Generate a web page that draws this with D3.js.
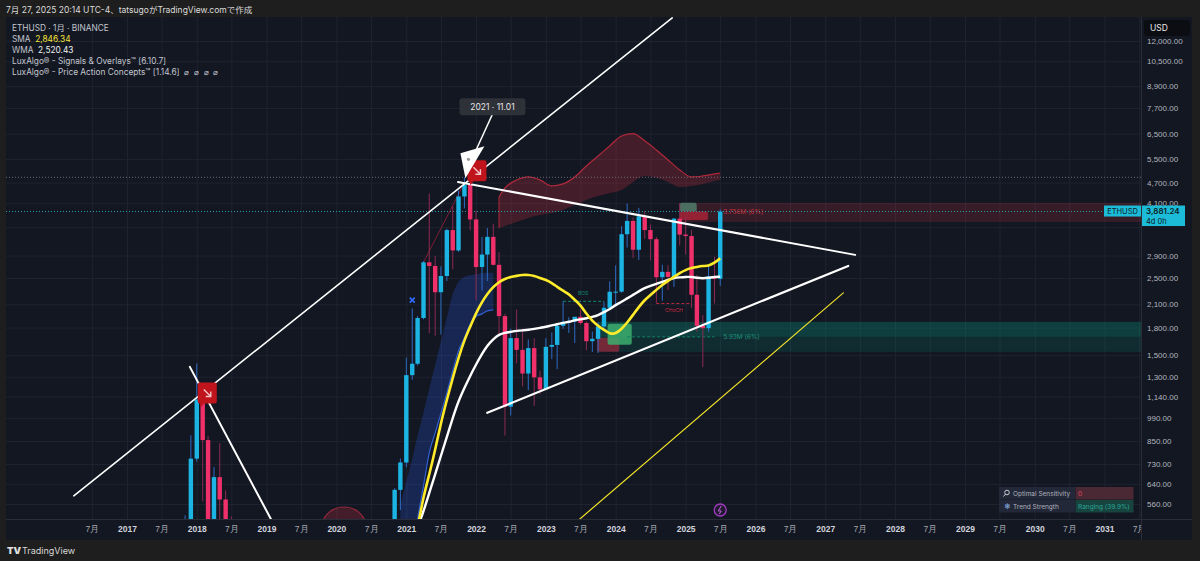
<!DOCTYPE html>
<html>
<head>
<meta charset="utf-8">
<script src="https://cdn.jsdelivr.net/npm/d3@7"></script>
<style>
html, body { margin: 0; padding: 0; background: #1e1e1e; }
svg { display: block; font-family: Inter, "Noto Sans CJK JP", sans-serif; }
</style>
</head>
<body>
<svg id="chart" width="1200" height="561"></svg>
<script>
// monthly ETHUSD candles: month, open, high, low, close
var ohlc = [
  ["2017-08",301,395,278,384],["2017-09",384,394,197,302],["2017-10",302,350,285,305],
  ["2017-11",305,520,293,445],["2017-12",445,882,410,756],["2018-01",756,1420,741,1118],
  ["2018-02",1118,1161,570,855],["2018-03",855,880,366,395],["2018-04",395,715,360,669],
  ["2018-05",669,838,507,577],["2018-06",577,613,410,454],["2018-07",454,516,406,433],
  ["2018-08",433,435,250,281],["2018-09",281,305,167,232],["2018-10",232,235,181,198],
  ["2018-11",198,226,102,113],["2018-12",113,159,81,131],["2019-01",131,161,101,106],
  ["2019-02",106,166,102,135],["2019-03",135,147,127,141],["2019-04",141,185,141,160],
  ["2019-05",160,287,160,268],["2019-06",268,362,229,293],["2019-07",293,315,188,218],
  ["2019-08",218,239,165,172],["2019-09",172,224,152,180],["2019-10",180,199,157,182],
  ["2019-11",182,195,131,151],["2019-12",151,153,117,129],["2020-01",129,185,127,180],
  ["2020-02",180,288,180,218],["2020-03",218,253,86,133],["2020-04",133,227,130,206],
  ["2020-05",206,245,176,231],["2020-06",231,253,215,225],["2020-07",225,349,222,345],
  ["2020-08",345,445,345,435],["2020-09",435,488,308,360],["2020-10",360,420,334,386],
  ["2020-11",386,622,370,615],["2020-12",615,757,538,737],["2021-01",737,1476,714,1314],
  ["2021-02",1314,2042,1274,1417],["2021-03",1417,1943,1400,1918],["2021-04",1918,2799,1900,2773],
  ["2021-05",2773,4372,1735,2707],["2021-06",2707,2891,1707,2275],["2021-07",2275,2700,1719,2533],
  ["2021-08",2533,3466,2450,3433],["2021-09",3433,4027,2650,3000],["2021-10",3000,4460,2970,4288],
  ["2021-11",4288,4868,3963,4631],["2021-12",4631,4778,3425,3683],["2022-01",3683,3900,2159,2688],
  ["2022-02",2688,3282,2300,2919],["2022-03",2919,3479,2450,3282],["2022-04",3282,3581,2717,2727],
  ["2022-05",2727,2965,1704,1942],["2022-06",1942,1972,881,1067],["2022-07",1067,1785,1006,1679],
  ["2022-08",1679,2030,1422,1553],["2022-09",1553,1789,1220,1328],["2022-10",1328,1664,1190,1572],
  ["2022-11",1572,1678,1073,1295],["2022-12",1295,1352,1158,1196],["2023-01",1196,1680,1190,1585],
  ["2023-02",1585,1743,1461,1605],["2023-03",1605,1857,1368,1822],["2023-04",1822,2142,1785,1870],
  ["2023-05",1870,1928,1737,1874],["2023-06",1874,1930,1626,1934],["2023-07",1934,2029,1835,1856],
  ["2023-08",1856,1875,1550,1645],["2023-09",1645,1754,1531,1671],["2023-10",1671,1865,1521,1814],
  ["2023-11",1814,2135,1771,2052],["2023-12",2052,2445,2051,2282],["2024-01",2282,2717,2100,2283],
  ["2024-02",2283,3522,2265,3340],["2024-03",3340,4094,3057,3647],["2024-04",3647,3730,2852,3014],
  ["2024-05",3014,3977,2817,3760],["2024-06",3760,3887,3240,3433],["2024-07",3433,3563,2810,3232],
  ["2024-08",3232,3283,2111,2513],["2024-09",2513,2728,2150,2603],["2024-10",2603,2722,2309,2518],
  ["2024-11",2518,3720,2357,3703],["2024-12",3703,4107,3099,3332],["2025-01",3332,3744,2922,3300],
  ["2025-02",3300,3436,2050,2237],["2025-03",2237,2550,1754,1822],["2025-04",1822,1956,1385,1793],
  ["2025-05",1793,2738,1751,2528],["2025-06",2528,2880,2111,2486],["2025-07",2486,3941,2373,3881.24]
];

// SMA (yellow) and WMA (white)
var smaLine = [
  ["2021-03",480],["2021-04",590],["2021-05",679],["2021-06",801],["2021-07",958],["2021-08",1116],
  ["2021-09",1291],["2021-10",1474],["2021-11",1660],["2021-12",1809],["2022-01",1984],["2022-02",2134],
  ["2022-03",2250],["2022-04",2357],["2022-05",2436],["2022-06",2485],["2022-07",2518],["2022-08",2535],
  ["2022-09",2552],["2022-10",2552],["2022-11",2535],["2022-12",2501],["2023-01",2469],["2023-02",2420],
  ["2023-03",2357],["2023-04",2295],["2023-05",2250],["2023-06",2162],["2023-07",2092],["2023-08",1971],
  ["2023-09",1882],["2023-10",1821],["2023-11",1773],["2023-12",1727],["2024-01",1727],["2024-02",1785],
  ["2024-03",1858],["2024-04",1958],["2024-05",2064],["2024-06",2162],["2024-07",2235],["2024-08",2311],
  ["2024-09",2388],["2024-10",2452],["2024-11",2518],["2024-12",2585],["2025-01",2637],["2025-02",2672],
  ["2025-03",2690],["2025-04",2708],["2025-05",2708],["2025-06",2762],["2025-07",2846.34]
];
var wmaLine = [
  ["2021-02",420],["2021-03",480],["2021-04",533],["2021-05",603],["2021-06",682],["2021-07",770],
  ["2021-08",874],["2021-09",991],["2021-10",1108],["2021-11",1208],["2021-12",1308],["2022-01",1411],
  ["2022-02",1513],["2022-03",1600],["2022-04",1670],["2022-05",1720],["2022-06",1740],["2022-07",1750],
  ["2022-08",1762],["2022-09",1768],["2022-10",1773],["2022-11",1785],["2022-12",1797],["2023-01",1809],
  ["2023-02",1827],["2023-03",1839],["2023-04",1858],["2023-05",1870],["2023-06",1889],["2023-07",1901],
  ["2023-08",1914],["2023-09",1932],["2023-10",1951],["2023-11",1995],["2023-12",2031],["2024-01",2092],
  ["2024-02",2134],["2024-03",2184],["2024-04",2235],["2024-05",2288],["2024-06",2342],["2024-07",2373],
  ["2024-08",2404],["2024-09",2436],["2024-10",2469],["2024-11",2502],["2024-12",2510],["2025-01",2518],
  ["2025-02",2518],["2025-03",2502],["2025-04",2494],["2025-05",2502],["2025-06",2518],["2025-07",2520.43]
];

// overlay ribbons: month, upper, lower
var blueBand = [
  ["2020-12",557,400],["2021-01",649,410],["2021-02",755,420],["2021-03",880,508],["2021-04",1027,632],
  ["2021-05",1200,786],["2021-06",1407,897],["2021-07",1638,1020],["2021-08",1926,1169],["2021-09",2250,1352],
  ["2021-10",2436,1543],["2021-11",2518,1682],["2021-12",2545,1839],["2022-01",2563,1939],["2022-02",2580,1971],
  ["2022-03",2590,2011],["2022-04",2590,2025]
];
var redBand = [
  ["2022-05",4274,3480],["2022-06",4537,3528],["2022-08",4784,3623],["2022-10",4880,3720],["2022-12",4784,3794],
  ["2023-02",4597,3845],["2023-04",4659,3922],["2023-06",4880,4054],["2023-08",5248,4190],["2023-10",5607,4302],
  ["2023-12",5991,4388],["2024-02",6400,4477],["2024-04",6500,4721],["2024-06",6200,4912],["2024-08",5834,4848],
  ["2024-10",5460,4721],["2024-12",5110,4567],["2025-02",4880,4597],["2025-04",4912,4659],["2025-06",4977,4752],
  ["2025-07",5010,4784]
];

// drawn trend lines: [decimal year, price] pairs
var trendLines = [
  { pts: [[2016.24, 591], [2024.81, 13980]], color: "#ffffff", w: 1.6 },
  { pts: [[2017.90, 1388], [2019.06, 508]], color: "#ffffff", w: 2 },
  { pts: [[2021.74, 4721], [2027.43, 2913]], color: "#ffffff", w: 2 },
  { pts: [[2022.16, 1024], [2027.33, 2708]], color: "#ffffff", w: 2.2 },
  { pts: [[2023.14, 442], [2027.26, 2265]], color: "#f2e22a", w: 1.2 }
];

// zones: start month, end month (null = extend right), top, bottom, fill
var zones = [
  ["2023-10", null, 1870, 1693, "rgba(8,153,129,0.30)"],
  ["2023-10", null, 1693, 1533, "rgba(8,153,129,0.16)"],
  ["2024-12", null, 4110, 3623, "rgba(242,54,69,0.16)"],
  ["2023-09-25", "2024-01-20", 1682, 1533, "rgba(150,40,60,0.75)"],
  ["2023-11-20", "2024-03-25", 1845, 1606, "rgba(60,175,110,0.85)"],
  ["2024-12", "2025-02-28", 4110, 3881, "rgba(80,125,108,0.85)"],
  ["2024-12", "2025-04-28", 3881, 3671, "rgba(165,35,55,0.85)"]
];

var priceTicks = [560,640,730,850,990,1140,1300,1500,1800,2100,2500,2900,3500,4100,4700,5500,6500,7700,8900,10500,12000];
var hiddenTick = 3500; // sits under the last-price label
var lastPrice = 3881.24, athPrice = 4868;

var parseM = function(s) { return s.length > 7 ? d3.utcParse("%Y-%m-%d")(s) : d3.utcParse("%Y-%m")(s); };
var fromYear = function(v) {
  var yr = Math.floor(v);
  return new Date(Date.UTC(yr, 0, 1) + (v - yr) * 365.25 * 864e5);
};

var svg = d3.select("#chart");
var L = 6, T = 17, R = 1141, B = 519, PR = 1192, PB = 540;

var x = d3.scaleUtc().domain([fromYear(2017), fromYear(2031)]).range([127, 1104.5]);
var y = d3.scaleLog().domain([560, 12000]).range([504, 41]);

svg.append("rect").attr("width", 1200).attr("height", 561).attr("fill", "#1e1e1e");
svg.append("rect").attr("x", L).attr("y", T).attr("width", PR - L).attr("height", PB - T).attr("fill", "#131722");

var defs = svg.append("defs");
defs.append("clipPath").attr("id", "plot")
  .append("rect").attr("x", L).attr("y", T).attr("width", R - L).attr("height", B - T);
defs.append("clipPath").attr("id", "taxis")
  .append("rect").attr("x", L).attr("y", B).attr("width", R - L).attr("height", PB - B);

// grid
var xTicks = d3.utcMonth.range(Date.UTC(2016, 6, 1), Date.UTC(2031, 7, 1), 6);
var gridX = svg.append("g").attr("clip-path", "url(#plot)").append("g").attr("transform", "translate(0," + B + ")")
  .call(d3.axisBottom(x).tickValues(xTicks).tickSize(-(B - T)).tickFormat(""));
var gridY = svg.append("g").attr("transform", "translate(" + R + ",0)")
  .call(d3.axisLeft(y).tickValues(priceTicks).tickSize(R - L).tickFormat(""));
[gridX, gridY].forEach(function(g) {
  g.select(".domain").remove();
  g.selectAll("line").attr("stroke", "#1f2330").attr("stroke-width", 1);
});

var plot = svg.append("g").attr("clip-path", "url(#plot)");

// zones
plot.selectAll("rect.zone").data(zones).join("rect").attr("class", "zone")
  .attr("x", function(d) { return x(parseM(d[0])); })
  .attr("width", function(d) { return (d[1] ? x(parseM(d[1])) : R) - x(parseM(d[0])); })
  .attr("y", function(d) { return y(d[2]); })
  .attr("height", function(d) { return y(d[3]) - y(d[2]); })
  .attr("fill", function(d) { return d[4]; })
  .attr("rx", function(d) { return d[1] ? 2 : 0; });

// ribbons
var band = d3.area().x(function(d) { return x(parseM(d[0])); })
  .y0(function(d) { return y(d[2]); }).y1(function(d) { return y(d[1]); }).curve(d3.curveMonotoneX);
var edge = function(i) {
  return d3.line().x(function(d) { return x(parseM(d[0])); }).y(function(d) { return y(d[i]); }).curve(d3.curveMonotoneX);
};
plot.append("path").datum(blueBand).attr("d", band).attr("fill", "rgba(41,98,255,0.22)");
plot.append("path").datum(blueBand).attr("d", edge(2)).attr("fill", "none").attr("stroke", "#2f5fd0").attr("stroke-width", 1.2);
plot.append("path").datum(redBand).attr("d", band).attr("fill", "rgba(242,54,69,0.22)");
plot.append("path").datum(redBand).attr("d", edge(1)).attr("fill", "none").attr("stroke", "#b1283b").attr("stroke-width", 1.2);
plot.append("line").attr("x1", x(parseM(redBand[0][0]))).attr("x2", x(parseM(redBand[0][0])))
  .attr("y1", y(redBand[0][1])).attr("y2", y(redBand[0][2])).attr("stroke", "#b1283b");

// red cloud at the 2020 bottom
plot.append("ellipse").attr("cx", x(parseM("2020-02-10"))).attr("cy", B + 8).attr("rx", 22).attr("ry", 20)
  .attr("fill", "rgba(242,54,69,0.22)").attr("stroke", "#8f2a3c").attr("stroke-width", 1.2);

// dotted price lines
plot.append("line").attr("x1", L).attr("x2", R).attr("y1", y(athPrice)).attr("y2", y(athPrice))
  .attr("stroke", "#6a6d78").attr("stroke-dasharray", "1,2");
plot.append("line").attr("x1", L).attr("x2", R).attr("y1", y(lastPrice)).attr("y2", y(lastPrice))
  .attr("stroke", "#2a9fb5").attr("stroke-dasharray", "1,2");

// structure labels
var dashLine = function(m0, m1, p, color) {
  plot.append("line").attr("x1", x(parseM(m0))).attr("x2", x(parseM(m1))).attr("y1", y(p)).attr("y2", y(p))
    .attr("stroke", color).attr("stroke-dasharray", "3,2").attr("stroke-width", 1);
};
dashLine("2023-04", "2023-11", 2142, "#0f8a70");
plot.append("text").attr("x", x(parseM("2023-07-15"))).attr("y", y(2142) - 6).attr("text-anchor", "middle")
  .attr("font-size", 5).attr("fill", "#0f8a70").text("BOS");
dashLine("2024-08", "2025-02", 2111, "#b4283c");
plot.append("text").attr("x", x(parseM("2024-11"))).attr("y", y(2111) + 8).attr("text-anchor", "middle")
  .attr("font-size", 5).attr("fill", "#c52b40").text("CHoCH");
dashLine("2024-03", "2025-06", 1693, "#12806a");
plot.append("text").attr("x", x(parseM("2025-07")) + 3).attr("y", y(1693) + 2.5)
  .attr("font-size", 6.5).attr("fill", "#1e8f7a").text("5.93M (6%)");
plot.append("text").attr("x", x(parseM("2025-07")) + 3).attr("y", y(lastPrice) + 2.5)
  .attr("font-size", 6.5).attr("fill", "#c2313f").text("3.756M (6%)");

// thin zigzag
plot.append("line").attr("x1", x(parseM("2021-04"))).attr("y1", y(2773))
  .attr("x2", x(parseM("2021-11"))).attr("y2", y(4700)).attr("stroke", "#7e1d35").attr("stroke-width", 1);

// candles
var candles = ohlc.map(function(d) { return { date: parseM(d[0]), o: d[1], h: d[2], l: d[3], c: d[4] }; });
var cg = plot.append("g").selectAll("g").data(candles).join("g");
cg.append("line")
  .attr("x1", function(d) { return x(d.date); }).attr("x2", function(d) { return x(d.date); })
  .attr("y1", function(d) { return y(d.h); }).attr("y2", function(d) { return y(d.l); })
  .attr("stroke", function(d) { return d.c >= d.o ? "#2d6cc4" : "#8c2a52"; }).attr("stroke-width", 1);
cg.append("rect")
  .attr("x", function(d) { return x(d.date) - 2.2; }).attr("width", 4.4)
  .attr("y", function(d) { return y(Math.max(d.o, d.c)); })
  .attr("height", function(d) { return Math.max(1, Math.abs(y(d.o) - y(d.c))); })
  .attr("fill", function(d) { return d.c >= d.o ? "#1cb5e3" : "#f0306b"; });

// moving averages
var maLine = d3.line().x(function(d) { return x(parseM(d[0])); }).y(function(d) { return y(d[1]); }).curve(d3.curveBasis);
plot.append("path").datum(wmaLine).attr("d", maLine).attr("fill", "none").attr("stroke", "#ffffff").attr("stroke-width", 2.4);
plot.append("path").datum(smaLine).attr("d", maLine).attr("fill", "none").attr("stroke", "#ffeb2a").attr("stroke-width", 2.6);

// trend lines
plot.selectAll("line.trend").data(trendLines).join("line").attr("class", "trend")
  .attr("x1", function(d) { return x(fromYear(d.pts[0][0])); }).attr("y1", function(d) { return y(d.pts[0][1]); })
  .attr("x2", function(d) { return x(fromYear(d.pts[1][0])); }).attr("y2", function(d) { return y(d.pts[1][1]); })
  .attr("stroke", function(d) { return d.color; }).attr("stroke-width", function(d) { return d.w; })
  .attr("stroke-linecap", "round");

// signal markers
var sellBox = function(cx, cy) {
  var g = plot.append("g").attr("transform", "translate(" + cx + "," + cy + ")");
  g.append("path").attr("d", "M0,2 Q0,0 2,0 L17,0 Q19,0 19,2 L19,19 Q19,21 17,21 L6,21 L3,25 L2,21 Q0,21 0,19 Z").attr("fill", "#c0141d");
  g.append("path").attr("d", "M6,7 L13,14 M13,9 L13,14 L8,14").attr("stroke", "#f3c4c6").attr("stroke-width", 1.4).attr("fill", "none");
};
sellBox(x(parseM("2021-11")) + 3, y(athPrice) - 17);
sellBox(x(parseM("2018-01")) + 1, y(1118) - 17);

var bx = x(parseM("2021-02")), by = y(2160);
plot.append("path").attr("d", "M" + (bx - 2.5) + "," + (by - 2.5) + "L" + (bx + 2.5) + "," + (by + 2.5) +
  "M" + (bx + 2.5) + "," + (by - 2.5) + "L" + (bx - 2.5) + "," + (by + 2.5))
  .attr("stroke", "#2f6bff").attr("stroke-width", 1.6);

var px = x(parseM("2025-07")), py = B - 9;
plot.append("circle").attr("cx", px).attr("cy", py).attr("r", 6).attr("fill", "rgba(156,39,176,0.12)")
  .attr("stroke", "#a13bc0").attr("stroke-width", 1.3);
plot.append("path").attr("d", "M" + (px + 1) + "," + (py - 4) + "L" + (px - 2) + "," + (py + 1) + "L" + (px + 1) + "," + (py + 1) + "L" + (px - 1) + "," + (py + 4))
  .attr("stroke", "#c060d8").attr("fill", "none").attr("stroke-width", 1);

// callout at the 2021 top
var tipX = x(parseM("2021-11")), tipY = y(athPrice);
var call = svg.append("g");
call.append("line").attr("x1", tipX + 28).attr("y1", tipY - 63).attr("x2", tipX + 12).attr("y2", tipY - 28)
  .attr("stroke", "#ffffff").attr("stroke-width", 1.5);
call.append("path").attr("d", "M" + (tipX + 1) + "," + (tipY + 1) + "L" + (tipX - 4) + "," + (tipY - 24) +
  "L" + (tipX + 20) + "," + (tipY - 31) + "Z").attr("fill", "#ffffff");
call.append("circle").attr("cx", tipX + 4).attr("cy", tipY - 18).attr("r", 1.6).attr("fill", "#9a9a9a");
call.append("rect").attr("x", tipX - 5).attr("y", tipY - 79).attr("width", 66).attr("height", 17).attr("rx", 3)
  .attr("fill", "#2f3138");
call.append("text").attr("x", tipX + 28).attr("y", tipY - 67.5).attr("text-anchor", "middle")
  .attr("font-size", 8.5).attr("fill", "#e6e6e6").text("2021 · 11.01");

// axes
svg.append("line").attr("x1", R + 0.5).attr("x2", R + 0.5).attr("y1", T).attr("y2", PB).attr("stroke", "#2a2e39");
svg.append("line").attr("x1", L).attr("x2", PR).attr("y1", B + 0.5).attr("y2", B + 0.5).attr("stroke", "#2a2e39");

var yAxis = svg.append("g").attr("transform", "translate(" + R + ",0)")
  .call(d3.axisRight(y).tickValues(priceTicks.filter(function(v) { return v !== hiddenTick; }))
    .tickSize(0).tickPadding(6).tickFormat(d3.format(",.2f")));
yAxis.select(".domain").remove();
yAxis.selectAll("text").attr("font-size", 8).attr("fill", "#b2b5be");

var xAxis = svg.append("g").attr("clip-path", "url(#taxis)").append("g").attr("transform", "translate(0," + B + ")")
  .call(d3.axisBottom(x).tickValues(xTicks).tickSize(0).tickPadding(7)
    .tickFormat(function(d) { return d.getUTCMonth() === 0 ? d.getUTCFullYear() : "7月"; }));
xAxis.select(".domain").remove();
xAxis.selectAll("text").attr("font-size", 8.5)
  .attr("fill", function(d) { return d.getUTCMonth() === 0 ? "#d1d4dc" : "#a3a6af"; })
  .attr("font-weight", function(d) { return d.getUTCMonth() === 0 ? 700 : 400; });

// price labels on the axis
var ly = y(lastPrice);
svg.append("rect").attr("x", 1104).attr("y", ly - 6).attr("width", 37).attr("height", 11).attr("fill", "#1cbcd8");
svg.append("text").attr("x", 1122.5).attr("y", ly + 2.8).attr("text-anchor", "middle").attr("font-size", 7.5)
  .attr("fill", "#0b1a22").text("ETHUSD");
svg.append("rect").attr("x", R + 1).attr("y", ly - 6).attr("width", 43).attr("height", 20.5).attr("fill", "#1cbcd8");
svg.append("text").attr("x", R + 5).attr("y", ly + 2.8).attr("font-size", 8).attr("font-weight", 600)
  .attr("fill", "#0b1a22").text(d3.format(",.2f")(lastPrice));
svg.append("text").attr("x", R + 5).attr("y", ly + 12).attr("font-size", 7.5).attr("fill", "#0b1a22").text("4d 0h");

svg.append("rect").attr("x", 1144).attr("y", 20).attr("width", 46).attr("height", 16).attr("rx", 3).attr("fill", "#0b0d12");
svg.append("text").attr("x", 1150).attr("y", 31).attr("font-size", 8.5).attr("fill", "#e8e8e8").text("USD");

// legend
var legend = [
  [["ETHUSD · 1月 · BINANCE", "#c3c6ce"]],
  [["SMA  ", "#c3c6ce"], ["2,846.34", "#f3e33a"]],
  [["WMA  ", "#c3c6ce"], ["2,520.43", "#f0f0f0"]],
  [["LuxAlgo® - Signals & Overlays™ [6.10.7]", "#c3c6ce"]],
  [["LuxAlgo® - Price Action Concepts™ [1.14.6]  ⌀  ⌀  ⌀  ⌀", "#c3c6ce"]]
];
svg.append("g").selectAll("text").data(legend).join("text")
  .attr("x", 12).attr("y", function(d, i) { return 30.5 + i * 11; }).attr("font-size", 8.3)
  .selectAll("tspan").data(function(d) { return d; }).join("tspan")
  .attr("fill", function(d) { return d[1]; }).attr("xml:space", "preserve").text(function(d) { return d[0]; });

// header and footer
svg.append("text").attr("x", 6).attr("y", 13).attr("font-size", 8.5).attr("fill", "#dcdcdc")
  .text("7月 27, 2025 20:14 UTC-4、tatsugoがTradingView.comで作成");
svg.append("text").attr("x", 7).attr("y", 554).attr("font-size", 9.5).attr("font-weight", 900).attr("fill", "#e0e0e0").text("TV");
svg.append("text").attr("x", 22).attr("y", 554).attr("font-size", 9).attr("fill", "#d8d8d8").text("TradingView");

// dashboard table
var tbl = svg.append("g").attr("transform", "translate(999,487)");
var rows = [["Optimal Sensitivity", "0", "#4a2935", "#e2465f"], ["Trend Strength", "Ranging (39.9%)", "#17443f", "#2aa596"]];
rows.forEach(function(r, i) {
  tbl.append("rect").attr("x", 0).attr("y", i * 13).attr("width", 76).attr("height", 12.5).attr("fill", "#232838");
  tbl.append("rect").attr("x", 76.5).attr("y", i * 13).attr("width", 58).attr("height", 12.5).attr("fill", r[2]);
  tbl.append("text").attr("x", 14).attr("y", i * 13 + 9).attr("font-size", 6.5).attr("fill", "#aeb2bd").text(r[0]);
  tbl.append("text").attr("x", 79).attr("y", i * 13 + 9).attr("font-size", 6.5).attr("fill", r[3]).text(r[1]);
});
tbl.append("circle").attr("cx", 8).attr("cy", 5.5).attr("r", 2.3).attr("fill", "none").attr("stroke", "#c9ccd4").attr("stroke-width", 1);
tbl.append("line").attr("x1", 6.3).attr("y1", 7.3).attr("x2", 4.5).attr("y2", 9.5).attr("stroke", "#c9ccd4").attr("stroke-width", 1);
tbl.append("text").attr("x", 8).attr("y", 22).attr("text-anchor", "middle").attr("font-size", 8).attr("fill", "#8fb9e8").text("❄");
</script>
</body>
</html>
